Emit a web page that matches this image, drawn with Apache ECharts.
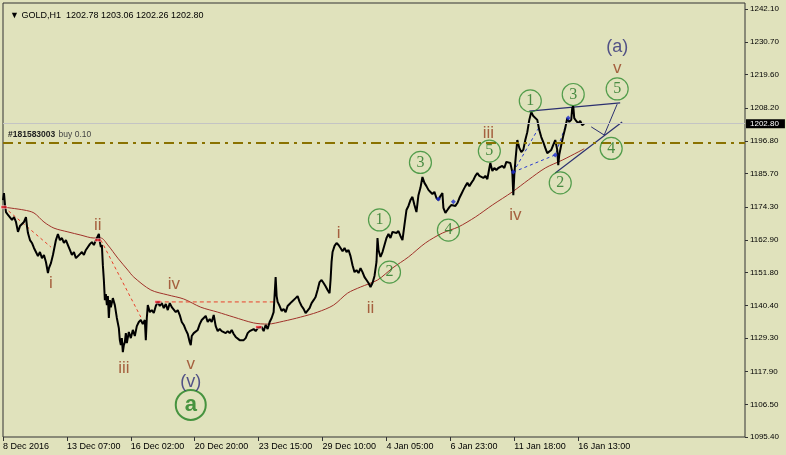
<!DOCTYPE html>
<html>
<head>
<meta charset="utf-8">
<script src="https://cdn.jsdelivr.net/npm/echarts@6/dist/echarts.min.js"></script>
<style>
html,body{margin:0;padding:0;background:#e0e2bc;}
#c{width:786px;height:455px;}
</style>
</head>
<body>
<div id="c"></div>
<script>
// ---- axis ticks ----
var timeLabels = ['8 Dec 2016','13 Dec 07:00','16 Dec 02:00','20 Dec 20:00','23 Dec 15:00','29 Dec 10:00','4 Jan 05:00','6 Jan 23:00','11 Jan 18:00','16 Jan 13:00'];
var timeTickIdx = [0,64,128,192,256,320,384,448,512,576];
var priceTicks = [1242.1,1230.7,1219.6,1208.2,1196.8,1185.7,1174.3,1162.9,1151.8,1140.4,1129.3,1117.9,1106.5,1095.4];

// ---- header ----
var symbolName = 'GOLD,H1';
var ohlc = [1202.78, 1203.06, 1202.26, 1202.80];
var currentPrice = 1202.80;
var tradePrice = 1196.2;
var tradeTicket = '#181583003';
var tradeText = 'buy 0.10';

// ---- price path [bar index, price] ----
var goldPath = [
[0,1176.6],[1,1179.0],[2,1174.9],[3,1172.5],[5,1171.5],[7,1171.8],[9,1169.8],[11,1170.8],[13,1169.1],[15,1165.7],[17,1167.7],[19,1168.4],[21,1169.1],[23,1170.8],[24,1167.7],[25,1165.3],[27,1162.9],[29,1161.9],[31,1160.2],[33,1158.8],[35,1157.4],[37,1158.8],[39,1156.7],[41,1157.8],[43,1155.4],[45,1151.6],[46,1153.3],[48,1155.0],[50,1157.8],[51,1159.5],[53,1162.9],[55,1165.0],[57,1162.9],[59,1163.6],[61,1161.9],[63,1162.9],[65,1161.2],[67,1159.5],[69,1157.8],[71,1158.8],[73,1156.7],[75,1156.1],[77,1158.1],[79,1158.8],[81,1157.8],[83,1159.5],[85,1159.5],[87,1161.5],[89,1162.2],[91,1161.2],[93,1162.9],[95,1164.3],[96,1165.0],[97,1162.2],[98,1160.5],[99,1161.2],[100,1154.3],[101,1149.2],[102,1142.3],[103,1144.4],[104,1140.6],[105,1143.7],[106,1136.2],[107,1142.3],[108,1139.9],[110,1143.0],[112,1140.6],[114,1136.2],[116,1132.7],[117,1128.6],[118,1126.9],[119,1129.3],[120,1124.5],[121,1126.9],[122,1127.9],[123,1131.0],[124,1127.6],[126,1131.4],
[128,1129.3],[130,1132.1],[132,1130.0],[134,1133.4],[136,1134.8],[138,1135.5],[140,1134.1],[142,1135.5],[143,1128.6],[144,1136.2],[145,1140.6],[147,1138.2],[149,1138.9],[151,1137.9],[153,1140.3],[155,1141.7],[157,1140.3],[159,1141.3],[161,1139.6],[163,1141.0],[165,1138.9],[167,1141.3],[169,1139.9],[171,1139.3],[173,1138.2],[175,1138.9],[177,1137.2],[179,1134.8],[181,1133.8],[183,1132.1],[185,1130.7],[187,1127.9],[188,1126.9],[189,1130.0],[191,1131.0],[193,1131.4],[195,1132.1],[197,1134.1],[199,1135.5],[201,1136.2],[203,1136.9],[205,1134.8],[207,1135.8],[209,1134.8],[211,1137.2],[213,1133.4],[215,1131.7],[217,1132.4],[219,1131.7],[221,1132.1],[223,1131.0],[225,1131.7],[227,1131.0],[229,1132.1],[231,1130.7],[233,1129.7],[235,1130.0],[237,1128.6],[239,1129.0],[241,1128.6],[243,1129.3],[245,1131.0],[247,1131.7],[249,1131.7],[251,1132.4],[253,1131.7],[255,1132.7],
[257,1132.1],[259,1133.1],[261,1131.7],[263,1133.8],[265,1132.4],[267,1134.8],[269,1136.2],[271,1138.2],[273,1150.2],[274,1143.7],[275,1141.7],[277,1140.3],[279,1138.6],[281,1139.3],[283,1138.2],[285,1140.3],[287,1141.0],[289,1141.7],[291,1141.3],[293,1143.0],[295,1143.7],[297,1141.7],[299,1140.3],[301,1139.3],[303,1137.9],[305,1138.2],[307,1139.6],[309,1141.3],[311,1142.3],[313,1143.4],[315,1145.8],[317,1148.5],[319,1149.2],[321,1148.2],[323,1147.1],[325,1145.8],[327,1144.7],[328,1149.2],[329,1155.4],[330,1158.8],[332,1160.9],[334,1161.9],[336,1161.2],[338,1160.2],[340,1159.1],[342,1160.2],[344,1158.8],[346,1159.5],[348,1157.4],[350,1154.3],[352,1151.9],[354,1152.6],[356,1151.6],[358,1153.3],[360,1151.9],[362,1150.2],[364,1149.2],[366,1148.2],[368,1146.8],[370,1148.2],[372,1150.6],[374,1155.4],[375,1163.6],
[376,1159.5],[378,1157.1],[380,1158.8],[382,1161.2],[384,1163.6],[386,1165.0],[388,1163.6],[390,1165.7],[392,1166.3],[394,1165.3],[396,1166.0],[398,1164.3],[400,1162.9],[402,1168.1],[404,1173.2],[406,1174.6],[408,1176.6],[410,1177.7],[412,1174.9],[414,1172.5],[416,1178.3],[418,1180.8],[420,1184.5],[422,1182.5],[424,1181.4],[426,1180.1],[428,1179.4],[430,1178.7],[432,1179.4],[434,1177.3],[436,1176.6],[438,1178.0],[440,1179.0],[441,1173.9],[443,1172.2],[445,1173.2],[447,1174.2],[449,1174.9],[451,1175.3],[453,1174.6],[455,1175.6],[457,1177.3],[459,1178.7],[461,1180.1],[463,1181.4],[465,1182.5],[467,1181.4],[469,1182.5],[471,1183.5],[473,1184.9],[475,1185.9],[477,1184.9],[479,1185.2],[481,1184.2],[483,1184.9],[485,1183.8],[487,1187.6],[488,1189.3],[490,1186.6],[492,1187.6],[494,1186.9],[496,1187.6],[498,1187.9],
[500,1188.3],[502,1187.6],[504,1189.7],[506,1190.3],[508,1189.3],[510,1186.2],[511,1178.3],[512,1185.2],[513,1189.7],[515,1197.2],[517,1194.5],[519,1193.1],[521,1193.8],[523,1197.2],[525,1199.9],[527,1204.1],[529,1206.8],[531,1205.4],[533,1205.8],[535,1204.1],[537,1200.6],[539,1198.2],[541,1196.5],[543,1194.5],[545,1192.7],[547,1192.1],[549,1193.8],[551,1195.5],[553,1197.2],[555,1193.8],[556,1188.6],[557,1192.1],[559,1195.5],[561,1198.6],[563,1201.3],[565,1204.7],[567,1203.4],[569,1204.1],[570,1208.2],[571,1208.9],[572,1204.7],[574,1203.7],[576,1203.0],[578,1203.7],[580,1202.3],[582,1202.8]
];

// ---- moving average [bar index, value] ----
var maPath = [
[0,1174.2],[21,1173.2],[31,1172.2],[41,1169.1],[51,1167.0],[65,1165.7],[78,1164.6],[91,1163.6],[98,1163.6],[105,1161.2],[115,1156.7],[125,1152.6],[131,1150.2],[148,1145.8],[165,1144.1],[181,1142.7],[198,1139.9],[215,1138.2],[231,1136.5],[251,1134.5],[265,1134.1],[281,1135.1],[298,1136.5],[315,1138.2],[331,1140.6],[345,1144.7],[358,1146.8],[375,1149.2],[390,1153.3],[406,1157.1],[423,1161.9],[440,1165.3],[456,1167.4],[473,1170.8],[490,1174.9],[510,1179.4],[526,1183.5],[543,1187.6],[560,1190.3],[576,1193.1],[582,1194.2]
];

// ---- Elliott wave annotations [bar index, price, text] ----
var romanLabels = [
[48,1148.2,'i'],[95,1167.9,'ii'],[121,1119.0,'iii'],[171,1147.8,'iv'],[188,1120.4,'v'],
[336,1165.3,'i'],[368,1139.6,'ii'],[486,1199.6,'iii'],[513,1171.5,'iv'],[615,1221.9,'v']
];
var degreeLabels = [[188,1114.3,'(v)'],[615,1229.1,'(a)']];
var circleLabels = [
[377,1169.8,'1'],[387,1151.9,'2'],[418,1189.5,'3'],[446,1166.3,'4'],[487,1193.4,'5'],
[528,1210.6,'1'],[558,1182.5,'2'],[571,1212.8,'3'],[609,1194.3,'4'],[615,1214.7,'5']
];
var bigCircleLabels = [[188,1106.4,'a']];

// ---- drawn lines ----
var triangleUpper = [[527,1207.1],[618,1209.9]];
var triangleLower = [[553,1185.9],[620,1203.4]];
var projection = [[589,1201.7],[602,1198.9],[615,1209.5]];
var blueDash1 = [[511,1186.2],[537,1201.7]];
var blueDash2 = [[511,1186.2],[553,1192.1],[566,1204.7]];
var redDash1 = [[1,1174.2],[48,1160.5]];
var redDash2 = [[98,1162.9],[138,1136.5]];
var redDash3 = [[155,1141.7],[275,1141.7]];
var redMarks = [[1,1174.2],[95,1162.9],[155,1141.7],[256,1133.1]];
var blueMarks = [[511,1186.2],[553,1192.1],[566,1204.7],[436,1177.0],[451,1176.0]];

var chart = echarts.init(document.getElementById('c'), null, {renderer:'canvas'});

function lineSeries(data, color, type, width) {
  return {type:'line', data:data, symbol:'none', silent:true, z:3,
    lineStyle:{color:color, width:width||1, type:type||'solid'}};
}
function textSeries(list, style) {
  return {type:'scatter', silent:true, z:6, symbol:'circle', symbolSize:1,
    itemStyle:{color:'rgba(0,0,0,0)'},
    data:list.map(function(d){return {value:[d[0],d[1]], name:d[2]};}),
    label:Object.assign({show:true, position:'inside', formatter:function(p){return p.name;}}, style)};
}

var option = {
  animation:false,
  backgroundColor:'#e0e2bc',
  title:{text:'\u25BC ' + symbolName + '  ' + ohlc.map(function(v){return v.toFixed(2);}).join(' '),
    left:5, top:6, textStyle:{fontFamily:'Liberation Sans', fontSize:9, fontWeight:'normal', color:'#000'}},
  grid:{left:2, right:41, top:3, bottom:18, show:true, borderColor:'#333', borderWidth:1},
  xAxis:{type:'value', min:0, max:743,
    axisLine:{show:false, onZero:false},
    splitLine:{show:false},
    axisTick:{show:true, length:4, customValues:timeTickIdx, lineStyle:{color:'#333'}},
    axisLabel:{customValues:timeTickIdx, align:'left', margin:5, fontSize:9, fontFamily:'Liberation Sans', color:'#000',
      formatter:function(v){var i=timeTickIdx.indexOf(v);return i>=0?timeLabels[i]:'';}}},
  yAxis:{type:'value', position:'right', min:1095.4, max:1244.16,
    axisLine:{show:false, onZero:false},
    splitLine:{show:false},
    axisTick:{show:true, length:3, customValues:priceTicks, lineStyle:{color:'#333'}},
    axisLabel:{customValues:priceTicks, margin:5, fontSize:8, fontFamily:'Liberation Sans', color:'#000',
      formatter:function(v){return v.toFixed(2);}}},
  series:[
    {type:'line', data:goldPath, symbol:'none', z:4, silent:true,
      lineStyle:{color:'#000', width:2},
      markLine:{silent:true, symbol:'none', animation:false,
        data:[
          {yAxis:currentPrice, lineStyle:{color:'#c4c4c4', width:1, type:'solid'},
            label:{show:true, position:'end', distance:1, formatter:currentPrice.toFixed(2),
              backgroundColor:'#000', color:'#fff', padding:[1,6,0,4], fontSize:8, fontFamily:'Liberation Sans'}},
          {yAxis:tradePrice, lineStyle:{color:'#8a7200', width:2, type:[10,5,3,5]},
            label:{show:true, position:'insideStartTop', distance:[5,2],
              formatter:'{a|' + tradeTicket + '} {b|' + tradeText + '}',
              rich:{a:{fontSize:8.5, fontWeight:'bold', color:'#222', fontFamily:'Liberation Sans'},
                    b:{fontSize:8.5, color:'#444', fontFamily:'Liberation Sans'}}}}
        ]}},
    Object.assign(lineSeries(maPath, '#a0322a', 'solid', 1), {smooth:0.3}),
    lineSeries(redDash1, '#e8402a', [3,3], 1),
    lineSeries(redDash2, '#e8402a', [3,3], 1),
    lineSeries(redDash3, '#e8402a', [4,3], 1),
    lineSeries(blueDash1, '#2a3ad0', [3,3], 1),
    lineSeries(blueDash2, '#2a3ad0', [3,3], 1),
    lineSeries(triangleUpper, '#2c3070', 'solid', 1.2),
    lineSeries(triangleLower, '#2c3070', 'solid', 1.2),
    lineSeries(projection, '#2c3070', 'solid', 1),
    {type:'scatter', data:redMarks, symbol:'rect', symbolSize:[6,3], silent:true, z:5,
      itemStyle:{color:'#e8202a', borderColor:'#fff', borderWidth:0.5}},
    {type:'scatter', data:blueMarks, symbol:'diamond', symbolSize:5, silent:true, z:5,
      itemStyle:{color:'#2030d0'}},
    textSeries(romanLabels, {fontSize:17, color:'#96401f', fontFamily:'Liberation Sans'}),
    textSeries(degreeLabels, {fontSize:18, color:'#2e2e78', fontFamily:'Liberation Sans'}),
    {type:'scatter', silent:true, z:6, symbol:'circle', symbolSize:22,
      itemStyle:{color:'rgba(0,0,0,0)', borderColor:'#2e8b2e', borderWidth:1.2},
      data:circleLabels.map(function(d){return {value:[d[0],d[1]], name:d[2]};}),
      label:{show:true, position:'inside', formatter:function(p){return p.name;},
        fontSize:16, color:'#237523', fontFamily:'Liberation Serif'}},
    {type:'scatter', silent:true, z:6, symbol:'circle', symbolSize:30,
      itemStyle:{color:'rgba(0,0,0,0)', borderColor:'#1f7f1f', borderWidth:2},
      data:bigCircleLabels.map(function(d){return {value:[d[0],d[1]], name:d[2]};}),
      label:{show:true, position:'inside', formatter:function(p){return p.name;},
        fontSize:22, fontWeight:'bold', color:'#1f7f1f', fontFamily:'Liberation Sans'}}
  ]
};
chart.setOption(option);
</script>
</body>
</html>
